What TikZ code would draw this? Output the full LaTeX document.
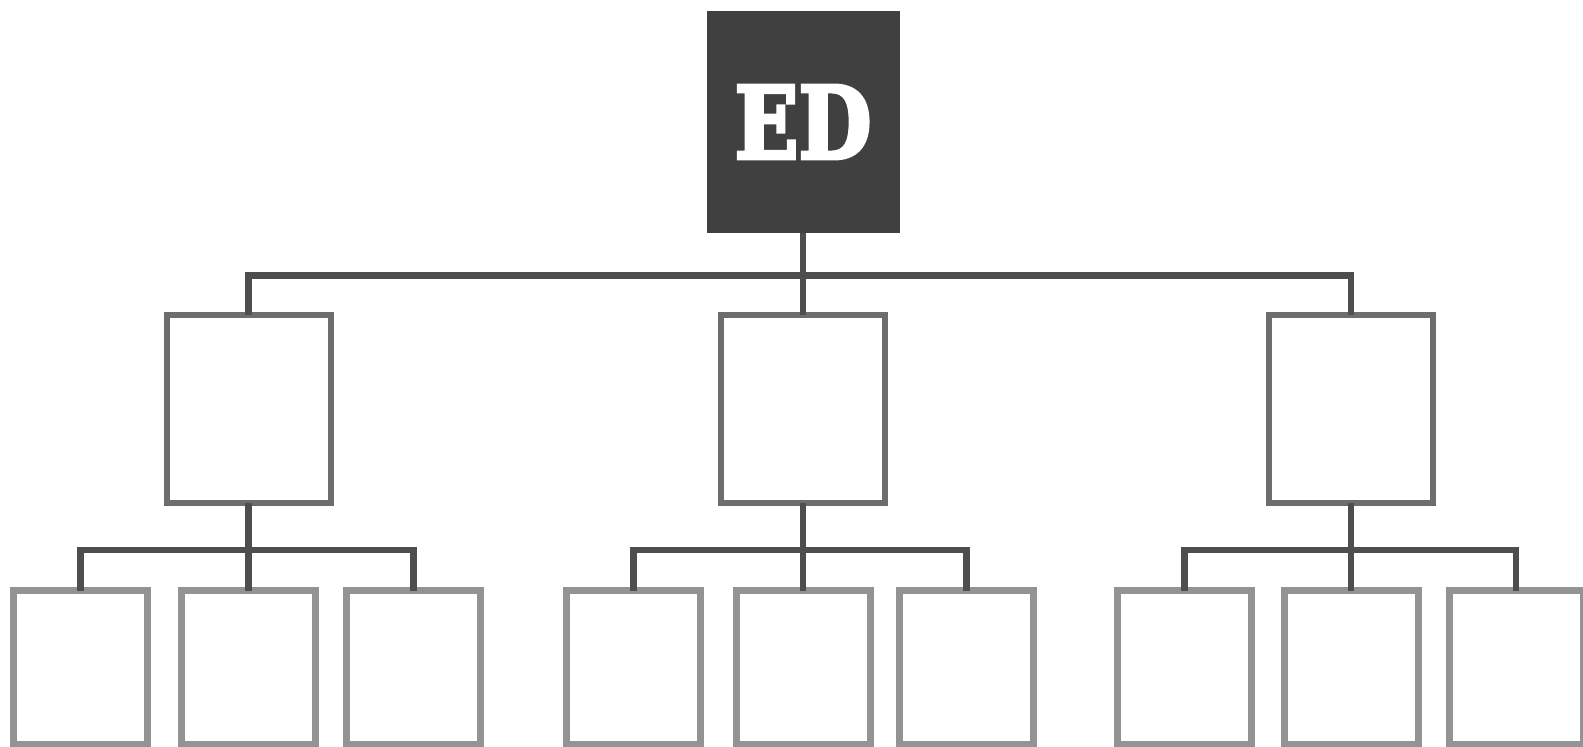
\documentclass[tikz,border=0pt]{standalone}
\usepackage{fontspec}
\setmainfont{DejaVu Serif}
\newfontfamily\edfont{DejaVu Serif}[UprightFont={* Bold}, FakeBold=4]
\usepackage{graphicx}
\usepackage{tikz}
\usetikzlibrary{positioning}
\usepackage{xcolor}

\definecolor{topgray}{HTML}{404040}
\definecolor{midgray}{HTML}{6D6D70}
\definecolor{lowgray}{HTML}{939396}
\definecolor{linkgray}{HTML}{4E4E50}

\begin{document}
\begin{tikzpicture}[x=1pt, y=-1pt,
    topbox/.style={fill=topgray, inner sep=0pt, outer sep=0pt,
        minimum width=193pt, minimum height=222pt, text=white},
    midbox/.style={draw=midgray, line width=6pt, fill=white, outer sep=0pt,
        minimum width=164pt, minimum height=188pt},
    lowbox/.style={draw=lowgray, line width=7pt, fill=white, outer sep=0pt,
        minimum width=134pt, minimum height=154pt},
    link/.style={draw=linkgray, line width=6.5pt}]
    \useasboundingbox (0, 0) rectangle (1583, 747);
    \clip (0, 0) rectangle (1583, 747);
    % head
    \node[topbox] (ed) at (803, 122) {\raisebox{-3pt}{\scalebox{0.84}[1]{\fontsize{100}{100}\edfont ED}}};
    % second row
    \node[midbox] (pa) at ( 248.5, 409) {};
    \node[midbox] (pb) at ( 803,   409) {};
    \node[midbox] (pc) at (1351,   409) {};
    % third row
    \node[lowbox] (pa1) at (  80.5, 667.5) {};
    \node[lowbox] (pa2) at ( 248.5, 667.5) {};
    \node[lowbox] (pa3) at ( 413.5, 667.5) {};
    \node[lowbox] (pb1) at ( 633.5, 667.5) {};
    \node[lowbox] (pb2) at ( 803,   667.5) {};
    \node[lowbox] (pb3) at ( 966.5, 667.5) {};
    \node[lowbox] (pc1) at (1184.5, 667.5) {};
    \node[lowbox] (pc2) at (1351,   667.5) {};
    \node[lowbox] (pc3) at (1516,   667.5) {};
    % bars
    \coordinate (topbar) at (803, 275.5);
    \coordinate (abar) at (248.5, 550);
    \coordinate (bbar) at (803, 550);
    \coordinate (cbar) at (1351, 550);
    \draw[link] (pa.north) |- (topbar) -| (pc.north);
    \draw[link] (ed.south) -- (pb.north);
    \draw[link] (pa1.north) |- (abar) -| (pa3.north);
    \draw[link] (pa.south) -- (pa2.north);
    \draw[link] (pb1.north) |- (bbar) -| (pb3.north);
    \draw[link] (pb.south) -- (pb2.north);
    \draw[link] (pc1.north) |- (cbar) -| (pc3.north);
    \draw[link] (pc.south) -- (pc2.north);
\end{tikzpicture}
\end{document}
